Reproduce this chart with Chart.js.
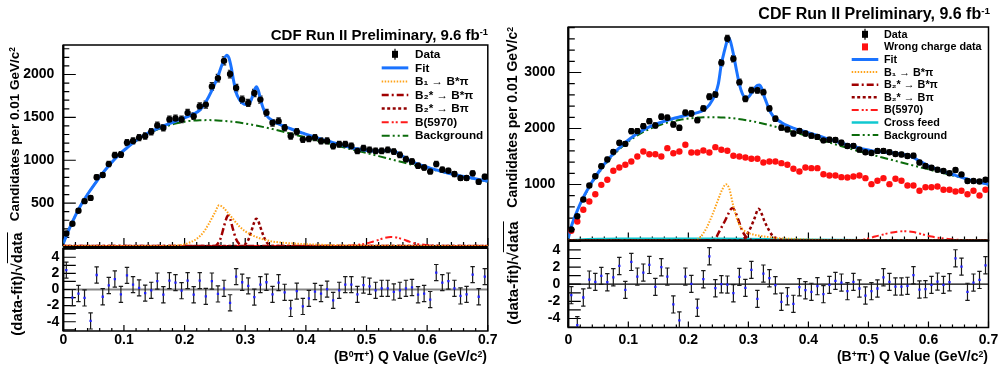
<!DOCTYPE html>
<html>
<head>
  <meta charset="utf-8">
  <title>CDF Run II - Q value of B pi</title>
  <script src="https://cdn.jsdelivr.net/npm/chart.js"></script>
  <style>
    body { margin: 0; background: #fff; font-family: "Liberation Sans", Arial, Helvetica, sans-serif; }
    #page { position: relative; width: 1000px; height: 368px; overflow: hidden; background: #fff; }
    canvas { position: absolute; }
    .txt { position: absolute; font-weight: bold; color: #000; white-space: nowrap; line-height: 1; }
    .sup { font-size: 0.62em; position: relative; top: -0.5em; }
    .rot { transform-origin: 0 0; transform: rotate(-90deg); }
  </style>
</head>
<body>
<div id="page">
  <canvas id="leftMain" width="500" height="210" style="left:0;top:40px"></canvas>
  <canvas id="leftRes" width="500" height="125" style="left:0;top:238px"></canvas>
  <canvas id="rightMain" width="500" height="225" style="left:500px;top:20px"></canvas>
  <canvas id="rightRes" width="500" height="130" style="left:500px;top:232px"></canvas>

  <div class="txt" style="right:512px;top:27px;font-size:15px">CDF Run II Preliminary, 9.6 fb<span class="sup">-1</span></div>
  <div class="txt" style="right:10px;top:6px;font-size:16px">CDF Run II Preliminary, 9.6 fb<span class="sup">-1</span></div>

  <div class="txt rot" style="left:8px;top:247px;width:200px;text-align:right;font-size:13.5px">Candidates per 0.01 GeV/c<span class="sup">2</span></div>
  <div class="txt rot" style="left:505px;top:227px;width:200px;text-align:right;font-size:14px">Candidates per 0.01 GeV/c<span class="sup">2</span></div>
  <div class="txt rot" style="left:9px;top:364px;width:160px;text-align:center;font-size:15px">(data-fit)/√<span style="text-decoration:overline">data</span></div>
  <div class="txt rot" style="left:505px;top:353px;width:160px;text-align:center;font-size:15px">(data-fit)/√<span style="text-decoration:overline">data</span></div>

  <div class="txt" style="right:513px;top:349px;font-size:14px">(B<span class="sup">0</span>π<span class="sup">+</span>) Q Value (GeV/c<span class="sup">2</span>)</div>
  <div class="txt" style="right:12px;top:349px;font-size:14px">(B<span class="sup">+</span>π<span class="sup">-</span>) Q Value (GeV/c<span class="sup">2</span>)</div>
</div>

<script>
  // bin centres (GeV/c^2), 0.01 wide bins
  const qBins = [0.005,0.015,0.025,0.035,0.045,0.055,0.065,0.075,0.085,0.095,
                 0.105,0.115,0.125,0.135,0.145,0.155,0.165,0.175,0.185,0.195,
                 0.205,0.215,0.225,0.235,0.245,0.255,0.265,0.275,0.285,0.295,
                 0.305,0.315,0.325,0.335,0.345,0.355,0.365,0.375,0.385,0.395,
                 0.405,0.415,0.425,0.435,0.445,0.455,0.465,0.475,0.485,0.495,
                 0.505,0.515,0.525,0.535,0.545,0.555,0.565,0.575,0.585,0.595,
                 0.605,0.615,0.625,0.635,0.645,0.655,0.665,0.675,0.685,0.695];

  // tick labels
  const qTicks = [0, 0.1, 0.2, 0.3, 0.4, 0.5, 0.6, 0.7];
  const leftYTicks = [500, 1000, 1500, 2000];
  const rightYTicks = [1000, 2000, 3000];
  const residTicks = [-4, -2, 0, 2, 4];

  // ---- left panel: B0 pi+ ----
  const leftData = [145,260,411,523,561,801,828,955,1059,1067,
                    1206,1225,1264,1283,1333,1406,1379,1476,1487,1476,
                    1553,1514,1630,1649,1861,1958,2159,2005,1842,1707,
                    1669,1785,1707,1553,1437,1456,1379,1283,1333,1244,
                    1252,1264,1225,1225,1167,1186,1186,1167,1109,1140,
                    1121,1109,1109,1121,1101,1063,1013,986,935,916,
                    870,955,889,877,839,793,793,847,750,808];
  const leftResid = [2.4,-1.0,-0.5,-1.05,-3.9,1.8,-0.9,0.5,1.3,-0.6,
                     1.75,0.6,0.2,-0.45,-0.1,1.05,-0.65,1.1,0.85,-0.15,
                     1.1,-0.65,1.1,-0.85,1.05,-0.55,0.15,-1.65,1.6,0.9,
                     0.45,-0.95,0.6,0.9,-0.6,0.85,-0.35,-2.35,-0.2,-2.1,
                     -1.1,-0.25,-0.5,0.05,-1.35,-0.1,0.6,0.6,-0.6,0.55,
                     0.4,-0.1,0.15,0.15,-0.3,-0.1,0.15,0.25,-0.65,-0.5,
                     -1.25,2.1,0.85,1.05,0.15,-0.8,-0.6,1.85,-0.9,1.6];

  const leftFitX = [0,0.005,0.015,0.025,0.035,0.045,0.055,0.065,0.075,0.085,0.095,0.105,0.115,0.125,0.135,0.145,0.155,0.165,0.175,0.185,0.195,0.205,0.215,0.225,0.235,0.245,
                    0.255,0.262,0.2695,0.273,0.277,0.28,0.285,0.29,0.295,0.30,0.305,0.31,0.315,0.3185,0.322,0.326,0.33,0.335,
                    0.345,0.355,0.365,0.375,0.385,0.395,0.405,0.415,0.425,0.435,0.445,0.455,0.465,0.475,0.485,0.495,0.505,0.515,0.525,0.535,0.545,0.555,0.565,0.575,0.585,0.595,0.605,0.615,0.625,0.635,0.645,0.655,0.665,0.675,0.685,0.695,0.70];
  const leftFitY = [30,118,280,425,548,655,755,850,935,1015,1085,1145,1202,1255,1298,1336,1368,1400,1428,1455,1482,1510,1540,1585,1680,1815,
                    1980,2120,2225,2195,2080,1960,1790,1712,1670,1650,1655,1705,1815,1858,1805,1690,1600,1525,
                    1462,1424,1393,1367,1340,1316,1292,1270,1247,1226,1206,1186,1166,1148,1131,1120,1111,1108,1109,1114,1105,1070,1022,983,955,931,908,888,867,849,833,818,805,791,777,763,756];
  const leftBgX = [0,0.005,0.015,0.025,0.035,0.045,0.055,0.065,0.075,0.085,0.095,0.105,0.115,0.125,0.135,0.145,0.155,0.165,0.175,0.185,0.195,0.205,0.215,0.225,
                   0.24,0.26,0.28,0.30,0.32,0.34,0.36,0.38,0.40,0.42,0.44,0.46,0.48,0.50,0.52,0.54,0.56,0.58,0.60,0.62,0.64,0.66,0.68,0.70];
  const leftBgY = [30,118,280,425,548,655,755,850,935,1015,1085,1145,1200,1250,1292,1328,1358,1385,1408,1428,1443,1455,1463,1467,
                   1468,1462,1448,1428,1402,1372,1338,1302,1265,1228,1192,1155,1120,1085,1048,1012,976,940,905,872,840,810,780,752];
  const leftB1X = [0,0.17,0.18,0.19,0.20,0.21,0.22,0.23,0.24,0.25,0.257,0.265,0.27,0.28,0.29,0.30,0.31,0.32,0.33,0.345,0.36,0.38,0.40,0.43,0.46,0.50,0.55,0.60,0.70];
  const leftB1Y = [0,0,3,8,20,45,85,150,260,390,475,440,400,315,230,172,130,100,78,52,40,29,21,13,8,4,2,1,0];
  const leftB2sX = [0,0.25,0.255,0.26,0.265,0.27,0.2715,0.275,0.28,0.285,0.29,0.295,0.30,0.70];
  const leftB2sY = [0,0,30,100,230,340,356,320,190,80,25,5,0,0];
  const leftB2X = [0,0.295,0.30,0.305,0.31,0.315,0.318,0.321,0.325,0.33,0.335,0.34,0.345,0.70];
  const leftB2Y = [0,0,20,70,170,280,318,300,220,120,45,12,0,0];
  const leftB59X = [0,0.46,0.48,0.50,0.51,0.52,0.53,0.54,0.55,0.56,0.57,0.58,0.60,0.62,0.64,0.70];
  const leftB59Y = [0,0,8,30,50,72,95,106,98,78,52,30,10,2,0,0];

  // ---- right panel: B+ pi- ----
  const rightData = [196,434,732,982,1148,1327,1446,1583,1744,1726,
                     1952,1952,2042,2131,2054,2209,2191,2072,2012,2281,
                     2268,2149,2357,2566,2608,3174,3602,3245,2827,2530,
                     2684,2684,2649,2357,2173,2015,1985,1910,1955,1910,
                     1872,1850,1788,1800,1795,1745,1688,1690,1622,1575,
                     1562,1600,1600,1575,1545,1535,1510,1515,1393,1330,
                     1300,1265,1240,1200,1258,1180,1063,1062,1054,1086];
  const rightWrong = [173,339,548,696,827,994,1084,1245,1304,1352,
                      1411,1500,1590,1541,1541,1500,1649,1559,1590,1709,
                      1572,1572,1607,1572,1667,1620,1602,1512,1500,1482,
                      1459,1459,1393,1411,1411,1381,1352,1280,1232,1304,
                      1292,1292,1184,1161,1161,1131,1125,1143,1161,1113,
                      1006,1066,1113,1006,1102,1066,982,982,888,952,
                      952,964,905,905,875,888,827,888,804,905];
  const rightResid = [-1.28,-4.77,-1.55,0.54,0.27,0.97,0.23,0.81,2.13,-0.66,
                      2.6,0.89,1.36,2.25,-0.31,1.98,0.89,-2.36,-4.22,0.89,
                      0.04,-2.75,0.58,3.26,-0.47,0,-0.04,-1.05,0.85,-0.43,
                      1.67,-1.71,1.24,0.7,-0.12,-2.05,-1.4,-2.29,-0.35,-0.7,
                      -0.89,-0.23,-1.16,-0.08,0.39,0.19,-0.81,0.27,-0.5,-1.32,
                      -0.81,-0.5,0.81,0.27,-0.27,-0.27,-0.19,1.05,-0.62,-0.58,
                      -0.08,0.31,-0.08,0.23,3.02,2.05,-0.89,0.19,0.5,2.21];

  const rightFitX = [0,0.005,0.01,0.015,0.025,0.035,0.045,0.055,0.065,0.075,0.085,0.095,0.105,0.115,0.125,0.135,0.145,0.155,0.165,0.175,0.185,0.195,0.205,0.215,0.225,0.235,0.245,
                     0.25,0.255,0.26,0.265,0.267,0.27,0.275,0.28,0.285,0.29,0.295,0.30,0.305,0.31,0.315,0.318,0.322,0.325,0.33,0.335,0.34,0.345,
                     0.355,0.365,0.375,0.385,0.395,0.405,0.415,0.425,0.435,0.445,0.455,0.465,0.475,0.485,0.495,0.505,0.515,0.525,0.535,0.545,0.555,0.565,0.575,0.585,0.595,0.605,0.615,0.625,0.635,0.645,0.655,0.665,0.675,0.685,0.695,0.70];
  const rightFitY = [40,250,400,535,770,965,1135,1290,1430,1550,1655,1750,1835,1910,1975,2028,2072,2112,2148,2178,2205,2232,2258,2282,2325,2420,2620,
                     2800,3150,3380,3580,3620,3560,3330,3050,2790,2620,2550,2560,2630,2710,2770,2775,2720,2610,2470,2330,2240,2180,
                     2107,2050,2008,1972,1940,1908,1875,1840,1805,1772,1738,1708,1678,1650,1625,1605,1590,1578,1568,1558,1545,1520,1478,1418,1360,1308,1265,1228,1195,1163,1128,1095,1064,1038,1015,1005];
  const rightBgX = [0,0.005,0.01,0.015,0.025,0.035,0.045,0.055,0.065,0.075,0.085,0.095,0.105,0.115,0.125,0.135,0.145,0.155,0.165,0.175,0.185,0.195,0.205,0.215,0.225,
                    0.24,0.26,0.28,0.30,0.32,0.34,0.36,0.38,0.40,0.42,0.44,0.46,0.48,0.50,0.52,0.54,0.56,0.58,0.60,0.62,0.64,0.66,0.68,0.70];
  const rightBgY = [40,245,392,525,755,948,1115,1268,1405,1525,1628,1722,1805,1878,1940,1992,2035,2072,2104,2130,2152,2170,2184,2194,2200,
                    2202,2195,2175,2142,2098,2045,1985,1922,1858,1795,1732,1668,1606,1548,1492,1436,1380,1325,1270,1215,1162,1110,1055,1000];
  const rightB1X = [0,0.21,0.22,0.23,0.24,0.25,0.256,0.2625,0.268,0.275,0.28,0.286,0.295,0.308,0.33,0.35,0.38,0.42,0.46,0.50,0.55,0.70];
  const rightB1Y = [0,0,60,220,460,740,900,1003,930,610,420,255,160,107,66,42,25,12,6,2,0,0];
  const rightB2sX = [0,0.24,0.245,0.25,0.255,0.26,0.265,0.27,0.274,0.278,0.2855,0.29,0.295,0.30,0.31,0.32,0.70];
  const rightB2sY = [0,0,30,130,230,330,440,550,580,520,300,170,80,30,5,0,0];
  const rightB2X = [0,0.285,0.29,0.295,0.30,0.305,0.31,0.317,0.322,0.327,0.3355,0.34,0.347,0.355,0.37,0.38,0.70];
  const rightB2Y = [0,0,20,60,150,260,390,566,480,340,160,90,40,15,3,0,0];
  const rightB59X = [0,0.47,0.48,0.49,0.50,0.511,0.52,0.535,0.55,0.561,0.575,0.59,0.605,0.62,0.632,0.65,0.67,0.70];
  const rightB59Y = [0,0,5,15,35,71,95,135,160,166,150,110,71,42,28,12,4,0];
  const rightCrossX = [0,0.02,0.05,0.10,0.15,0.20,0.25,0.30,0.35,0.40,0.50,0.60,0.70];
  const rightCrossY = [0,15,25,30,32,33,30,25,18,12,5,2,0];

  const FONT = '"Liberation Sans", Arial, Helvetica, sans-serif';
  Chart.defaults.font.family = FONT;
  Chart.defaults.font.size = 14;
  Chart.defaults.font.weight = 'bold';
  Chart.defaults.color = '#000';

  // line styles of the fit components
  const fitStyle   = { borderColor: '#1a73ff', borderWidth: 3, borderDash: [] };
  const b1Style    = { borderColor: '#ffa31a', borderWidth: 2, borderDash: [1.5, 1.5] };
  const b2sStyle   = { borderColor: '#a00000', borderWidth: 2.5, borderDash: [7, 3, 2, 3] };
  const b2Style    = { borderColor: '#930000', borderWidth: 2.5, borderDash: [3, 2.5] };
  const b59Style   = { borderColor: '#ff1a1a', borderWidth: 2, borderDash: [7, 3, 2, 2, 2, 3] };
  const crossStyle = { borderColor: '#10c8d0', borderWidth: 2.5, borderDash: [] };
  const bgStyle    = { borderColor: '#0b6b0b', borderWidth: 2, borderDash: [8, 3, 2, 3, 2, 3] };

  function pairs(xs, ys) {
    return xs.map((x, i) => ({ x: x, y: ys[i] }));
  }

  function fixedTicks(values) {
    return s => { s.ticks = values.map(v => ({ value: v })); };
  }

  function curve(label, xs, ys, style) {
    return Object.assign({
      label: label, data: pairs(xs, ys), showLine: true, fill: false,
      pointRadius: 0, cubicInterpolationMode: 'monotone'
    }, style);
  }

  function markers(label, ys, color, radius, style, errors) {
    return {
      label: label, data: pairs(qBins, ys), showLine: false,
      pointRadius: radius, pointStyle: style, pointBackgroundColor: color,
      pointBorderColor: color, pointBorderWidth: 0, errorBars: errors
    };
  }

  // ROOT-like frame with inward tick marks
  const rootAxes = {
    id: 'rootAxes',
    beforeDatasetsDraw(chart, args, o) {
      const { ctx, chartArea: a } = chart;
      const x = chart.scales.x, y = chart.scales.y;
      ctx.save();
      if (o.zero) {
        const p0 = y.getPixelForValue(0);
        ctx.strokeStyle = o.zero.color;
        ctx.lineWidth = o.zero.width;
        ctx.beginPath(); ctx.moveTo(a.left, p0); ctx.lineTo(a.right, p0); ctx.stroke();
      }
      ctx.strokeStyle = '#000';
      ctx.lineWidth = 1.2;
      ctx.beginPath();
      const ny = Math.round(o.yMajor / o.yMinor);
      for (let i = Math.ceil(y.min / o.yMinor - 1e-9); i <= Math.floor(y.max / o.yMinor + 1e-9); i++) {
        const py = y.getPixelForValue(i * o.yMinor);
        const len = ((i % ny) + ny) % ny === 0 ? o.yLen[0] : o.yLen[1];
        ctx.moveTo(a.left, py); ctx.lineTo(a.left + len, py);
      }
      const nx = Math.round(o.xMajor / o.xMinor);
      for (let i = 0; i <= Math.round(x.max / o.xMinor); i++) {
        const px = x.getPixelForValue(i * o.xMinor);
        const len = i % nx === 0 ? o.xLen[0] : o.xLen[1];
        ctx.moveTo(px, a.bottom); ctx.lineTo(px, a.bottom - len);
      }
      ctx.stroke();
      ctx.lineWidth = 1.5;
      ctx.strokeRect(a.left, a.top, a.width, a.height);
      ctx.lineWidth = 2.2;
      ctx.beginPath();
      ctx.moveTo(a.left, a.top); ctx.lineTo(a.left, a.bottom);
      if (o.thickBottom) { ctx.moveTo(a.left, a.bottom); ctx.lineTo(a.right, a.bottom); }
      if (o.thickTop) { ctx.moveTo(a.left, a.top); ctx.lineTo(a.right, a.top); }
      ctx.stroke();
      ctx.restore();
    }
  };

  // vertical error bars with small caps
  const errorBars = {
    id: 'errorBars',
    beforeDatasetsDraw(chart) {
      const { ctx, chartArea: a } = chart;
      const y = chart.scales.y;
      ctx.save();
      ctx.beginPath(); ctx.rect(a.left, a.top, a.width, a.height); ctx.clip();
      chart.data.datasets.forEach((ds, i) => {
        if (!ds.errorBars) return;
        const meta = chart.getDatasetMeta(i);
        ctx.strokeStyle = '#1a1a1a';
        ctx.lineWidth = 1.2;
        ctx.beginPath();
        meta.data.forEach((el, j) => {
          const v = ds.data[j].y;
          const e = ds.errorBars === 'poisson' ? Math.sqrt(v) : ds.errorBars;
          const y1 = y.getPixelForValue(v + e), y2 = y.getPixelForValue(v - e);
          ctx.moveTo(el.x, y1); ctx.lineTo(el.x, y2);
          ctx.moveTo(el.x - 2.2, y1); ctx.lineTo(el.x + 2.2, y1);
          ctx.moveTo(el.x - 2.2, y2); ctx.lineTo(el.x + 2.2, y2);
        });
        ctx.stroke();
      });
      ctx.restore();
    }
  };

  // legend drawn inside the frame, ROOT TLegend style
  const rootLegend = {
    id: 'rootLegend',
    afterDatasetsDraw(chart, args, o) {
      const ctx = chart.ctx;
      ctx.save();
      ctx.font = 'bold ' + o.size + 'px ' + FONT;
      ctx.textBaseline = 'middle';
      chart.data.datasets.forEach((ds, k) => {
        const y = o.top + k * o.step;
        if (ds.showLine) {
          ctx.strokeStyle = ds.borderColor;
          ctx.lineWidth = ds.borderWidth;
          ctx.setLineDash(ds.borderDash || []);
          ctx.beginPath(); ctx.moveTo(o.x0, y); ctx.lineTo(o.x1, y); ctx.stroke();
          ctx.setLineDash([]);
        } else {
          const cx = (o.x0 + o.x1) / 2;
          ctx.fillStyle = ds.pointBackgroundColor;
          ctx.fillRect(cx - 3, y - 3.5, 6, 7);
          if (ds.errorBars) {
            ctx.strokeStyle = '#000'; ctx.lineWidth = 1.2;
            ctx.beginPath(); ctx.moveTo(cx, y - 5.5); ctx.lineTo(cx, y + 5.5); ctx.stroke();
          }
        }
        ctx.fillStyle = '#000';
        ctx.fillText(ds.label, o.textX, y + 0.5);
      });
      ctx.restore();
    }
  };

  function mainChart(id, datasets, yMax, yTicks, axisWidth, labelPad, pad, axes, legend) {
    return new Chart(document.getElementById(id), {
      type: 'line',
      data: { datasets: datasets },
      options: {
        responsive: false, animation: false, events: [],
        layout: { padding: pad },
        scales: {
          x: { type: 'linear', min: 0, max: 0.7, display: false },
          y: {
            min: 0, max: yMax,
            grid: { display: false, drawTicks: false }, border: { display: false },
            ticks: { padding: labelPad, callback: v => String(v) },
            afterBuildTicks: fixedTicks(yTicks),
            afterFit: s => { s.width = axisWidth; s.paddingTop = 0; s.paddingBottom = 0; }
          }
        },
        plugins: { legend: { display: false }, tooltip: { enabled: false }, rootAxes: axes, rootLegend: legend }
      },
      plugins: [rootAxes, errorBars, rootLegend]
    });
  }

  function residChart(id, values, yMin, yMax, axisWidth, labelPad, xHeight, xPad, pad, axes) {
    return new Chart(document.getElementById(id), {
      type: 'line',
      data: { datasets: [markers('residual', values, '#1f1fff', 1.6, 'rect', 1)] },
      options: {
        responsive: false, animation: false, events: [],
        layout: { padding: pad },
        scales: {
          x: {
            type: 'linear', min: 0, max: 0.7,
            grid: { display: false, drawTicks: false }, border: { display: false },
            ticks: { padding: xPad, maxRotation: 0, autoSkip: false,
                     callback: v => (v === 0 ? '0' : v.toFixed(1)) },
            afterBuildTicks: fixedTicks(qTicks),
            afterFit: s => { s.height = xHeight; s.paddingLeft = 0; s.paddingRight = 0; }
          },
          y: {
            min: yMin, max: yMax,
            grid: { display: false, drawTicks: false }, border: { display: false },
            ticks: { padding: labelPad, callback: v => String(v) },
            afterBuildTicks: fixedTicks(residTicks),
            afterFit: s => { s.width = axisWidth; s.paddingTop = 0; s.paddingBottom = 0; }
          }
        },
        plugins: { legend: { display: false }, tooltip: { enabled: false }, rootAxes: axes }
      },
      plugins: [rootAxes, errorBars]
    });
  }

  // left panel
  mainChart('leftMain', [
    markers('Data', leftData, '#000', 3.2, 'circle', 'poisson'),
    curve('Fit', leftFitX, leftFitY, fitStyle),
    curve('B\u2081 \u2192 B*\u03c0', leftB1X, leftB1Y, b1Style),
    curve('B\u2082* \u2192 B*\u03c0', leftB2sX, leftB2sY, b2sStyle),
    curve('B\u2082* \u2192 B\u03c0', leftB2X, leftB2Y, b2Style),
    curve('B(5970)', leftB59X, leftB59Y, b59Style),
    curve('Background', leftBgX, leftBgY, bgStyle)
  ], 2344, leftYTicks, 63.3, 9, { top: 5, right: 12.2, bottom: 2.5, left: 0 },
  { yMajor: 500, yMinor: 100, yLen: [12.5, 6], xMajor: 0.1, xMinor: 0.02, xLen: [8, 4], thickBottom: true },
  { top: 14.3, step: 13.57, x0: 381.7, x1: 408.3, textX: 415, size: 11.7 });

  residChart('leftRes', leftResid, -5.15, 5.15, 63.3, 4, 32, 0.6, { top: 10, right: 12.2, bottom: 0, left: 0 },
    { yMajor: 2, yMinor: 1, yLen: [12.5, 12.5], xMajor: 0.1, xMinor: 0.02, xLen: [6, 3], thickTop: true,
      zero: { color: '#888', width: 2 } });

  // right panel
  mainChart('rightMain', [
    markers('Data', rightData, '#000', 3.2, 'circle', 'poisson'),
    markers('Wrong charge data', rightWrong, '#ff1010', 3.2, 'circle', 0),
    curve('Fit', rightFitX, rightFitY, fitStyle),
    curve('B\u2081 \u2192 B*\u03c0', rightB1X, rightB1Y, b1Style),
    curve('B\u2082* \u2192 B*\u03c0', rightB2sX, rightB2sY, b2sStyle),
    curve('B\u2082* \u2192 B\u03c0', rightB2X, rightB2Y, b2Style),
    curve('B(5970)', rightB59X, rightB59Y, b59Style),
    curve('Cross feed', rightCrossX, rightCrossY, crossStyle),
    curve('Background', rightBgX, rightBgY, bgStyle)
  ], 3812, rightYTicks, 68.3, 13, { top: 7, right: 11.5, bottom: 4.5, left: 0 },
  { yMajor: 1000, yMinor: 200, yLen: [13, 6.5], xMajor: 0.1, xMinor: 0.02, xLen: [8, 4], thickBottom: true },
  { top: 14.3, step: 12.6, x0: 351.7, x1: 378.3, textX: 384, size: 10.8 });

  residChart('rightRes', rightResid, -5.05, 5.1, 68.3, 8, 34.5, 4.1, { top: 8.5, right: 11.5, bottom: 0, left: 0 },
    { yMajor: 2, yMinor: 1, yLen: [12.5, 12.5], xMajor: 0.1, xMinor: 0.02, xLen: [6, 3], thickTop: true,
      zero: { color: '#000', width: 1.3 } });
</script>
</body>
</html>
